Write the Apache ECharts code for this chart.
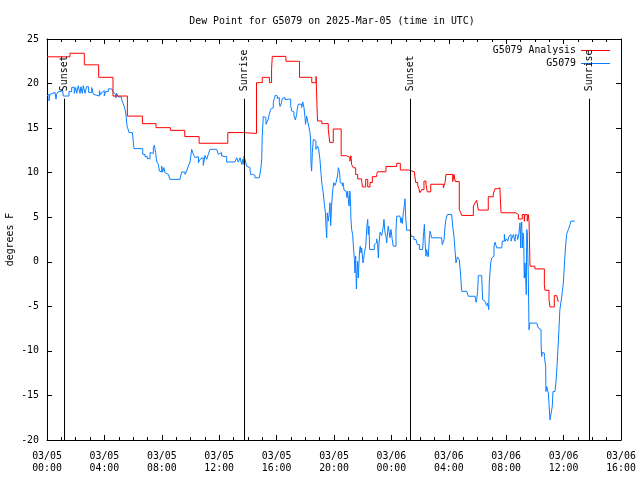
<!DOCTYPE html>
<html><head><meta charset="utf-8">
<script src="https://cdn.jsdelivr.net/npm/echarts@6/dist/echarts.min.js"></script>
<style>html,body{margin:0;padding:0;background:#fff}#c{width:640px;height:480px}</style>
</head><body><div id="c"></div>
<script>
// ---- data (hours since 2025-03-05 00:00 UTC, degrees F) ----
const titleText = 'Dew Point for G5079 on 2025-Mar-05 (time in UTC)';
const seriesNames = ['G5079 Analysis', 'G5079'];
const xTickLabels = ['03/05\n00:00','03/05\n04:00','03/05\n08:00','03/05\n12:00','03/05\n16:00','03/05\n20:00','03/06\n00:00','03/06\n04:00','03/06\n08:00','03/06\n12:00','03/06\n16:00'];
const xMin = 0, xMax = 40, xStep = 4;
const yMin = -20, yMax = 25, yStep = 5;
const sunTimes = [1.21, 13.75, 25.33, 37.79];
const sunLabels = ['Sunset', 'Sunrise', 'Sunset', 'Sunrise'];

const analysisData = [[0,23.0],[1.6,23.4],[2.6,22.1],[3.6,20.7],[4.6,18.6],[5.6,16.35],[6.65,15.5],[7.6,15.05],[8.6,14.75],[9.6,14.05],[10.6,13.3],[12.6,14.5],[13.7,14.4],[14.6,20.1],[15.0,20.7],[15.5,20.1],[15.65,21.6],[15.7,23.05],[16.65,22.5],[17.6,20.7],[18.45,20.1],[18.75,20.8],[18.85,15.8],[19.15,15.5],[19.6,14.9],[19.7,13.4],[19.95,14.9],[20.5,11.9],[20.88,11.7],[21.11,11.3],[21.18,11.9],[21.23,10.9],[21.35,10.55],[21.51,9.8],[21.65,9.3],[21.93,9.0],[21.98,8.4],[22.21,9.25],[22.35,8.4],[22.51,8.9],[22.67,9.55],[22.97,9.8],[23.04,10.1],[23.62,10.7],[24.37,11.05],[24.62,10.3],[25.23,10.1],[25.6,9.9],[25.69,8.9],[25.83,8.6],[25.92,8.2],[25.99,7.75],[26.11,8.1],[26.27,9.05],[26.41,8.7],[26.5,7.85],[26.74,8.7],[27.62,8.3],[27.74,8.9],[27.8,9.8],[28.27,9.0],[28.36,9.8],[28.45,9.0],[28.73,5.9],[28.83,5.5],[28.9,5.2],[29.71,6.25],[29.83,6.6],[29.94,6.9],[30.06,5.8],[30.75,7.3],[31.1,7.6],[31.22,8.2],[31.41,8.3],[31.57,7.8],[31.64,5.5],[32.66,5.3],[32.85,4.8],[33.12,5.3],[33.26,4.55],[33.31,5.3],[33.47,4.55],[33.54,5.3],[33.59,4.55],[33.66,-0.5],[34.0,-0.8],[34.66,-2.56],[34.7,-3.2],[34.98,-4.2],[35.05,-5.07],[35.35,-3.8],[35.52,-4.0],[35.63,-4.5]];

const stationData = [[0,18.6],[0.09,18.8],[0.14,18.05],[0.21,18.8],[0.32,19.0],[0.56,18.8],[0.63,18.25],[0.67,18.8],[0.79,19.1],[0.98,19.25],[1.07,19.4],[1.14,18.6],[1.53,19.1],[1.72,19.55],[1.83,19.6],[1.9,18.9],[2.0,19.55],[2.07,18.9],[2.18,19.75],[2.3,18.9],[2.37,19.65],[2.46,18.9],[2.53,19.75],[2.65,18.9],[2.76,19.65],[2.9,19.0],[3.11,19.55],[3.23,18.8],[3.34,18.6],[3.65,19.2],[3.74,18.75],[3.81,19.0],[3.93,19.2],[3.99,18.6],[4.09,19.1],[4.27,19.4],[4.51,19.4],[4.62,19.0],[4.74,18.8],[4.79,18.4],[4.85,18.9],[4.97,18.5],[5.2,18.2],[5.27,18.05],[5.32,17.7],[5.44,17.1],[5.5,16.55],[5.58,15.2],[5.65,14.87],[5.72,14.5],[5.95,14.3],[6.06,12.7],[6.67,12.06],[6.83,11.8],[6.99,11.57],[7.18,12.25],[7.3,12.17],[7.41,12.8],[7.48,13.07],[7.57,12.25],[7.64,11.3],[7.76,10.93],[7.83,10.18],[7.92,10.07],[7.99,10.74],[8.06,10.07],[8.15,10.56],[8.22,10.0],[8.34,9.81],[8.46,9.62],[8.57,9.25],[9.27,9.25],[9.38,10.07],[9.62,9.81],[9.73,10.18],[9.85,10.74],[9.97,11.2],[10.08,12.62],[10.2,12.06],[10.31,11.68],[10.43,11.8],[10.55,11.12],[10.66,11.5],[10.78,11.68],[10.89,10.82],[11.01,11.95],[11.13,11.5],[11.24,12.06],[11.36,12.62],[11.82,12.7],[11.94,12.06],[12.06,12.25],[12.17,11.87],[12.29,11.8],[12.52,11.2],[13.1,11.2],[13.22,11.68],[13.33,11.2],[13.45,11.68],[13.52,11.87],[13.57,10.93],[13.63,11.5],[13.68,10.93],[13.73,11.87],[13.8,11.5],[13.91,10.75],[14.03,10.56],[14.15,10.18],[14.19,9.81],[14.33,10.0],[14.42,9.7],[14.49,9.43],[14.79,9.43],[14.84,9.81],[14.91,10.56],[14.96,11.5],[15.0,14.12],[15.07,16.3],[15.19,16.18],[15.26,15.43],[15.38,15.43],[15.42,16.0],[15.49,16.56],[15.59,17.12],[15.7,17.3],[15.77,17.87],[15.84,18.32],[15.91,18.69],[16.0,18.62],[16.05,18.32],[16.12,18.43],[16.19,17.87],[16.24,17.43],[16.31,17.68],[16.4,18.32],[16.47,18.43],[16.59,18.17],[16.7,18.25],[16.82,18.32],[16.93,18.25],[16.98,17.57],[17.05,16.93],[17.12,16.82],[17.21,16.37],[17.31,15.92],[17.4,16.56],[17.44,17.12],[17.51,17.68],[17.63,17.68],[17.75,17.3],[17.82,17.94],[17.91,17.3],[17.98,16.18],[18.02,15.43],[18.09,16.37],[18.16,15.81],[18.26,15.06],[18.33,14.5],[18.37,13.56],[18.4,10.93],[18.44,10.18],[18.49,12.25],[18.56,13.75],[18.67,13.56],[18.74,12.62],[18.79,12.81],[18.86,12.99],[18.93,12.62],[19.02,11.5],[19.09,10.0],[19.16,8.68],[19.25,7.74],[19.32,6.62],[19.4,5.49],[19.44,4.07],[19.49,2.68],[19.53,5.49],[19.6,4.56],[19.67,5.49],[19.72,6.62],[19.77,4.07],[19.83,6.25],[19.9,7.93],[19.99,8.87],[20.07,8.57],[20.14,8.87],[20.19,9.06],[20.26,9.81],[20.3,10.56],[20.35,10.75],[20.39,10.0],[20.44,8.87],[20.5,8.8],[20.58,8.5],[20.63,8.87],[20.7,8.05],[20.77,7.93],[20.84,7.75],[20.91,7.19],[20.95,7.93],[21.0,7.0],[21.05,6.25],[21.11,7.93],[21.16,6.25],[21.18,4.75],[21.23,3.62],[21.3,3.06],[21.35,1.75],[21.42,0.25],[21.46,-1.25],[21.51,0.62],[21.56,-3.05],[21.6,-1.25],[21.65,0.06],[21.69,-1.81],[21.74,-0.12],[21.79,1.37],[21.83,1.75],[21.88,1.0],[21.93,1.56],[21.97,1.37],[22.02,-0.12],[22.07,0.25],[22.11,1.0],[22.21,1.75],[22.25,2.87],[22.3,4.18],[22.35,4.75],[22.39,3.06],[22.44,4.0],[22.48,1.37],[22.81,1.93],[22.86,2.12],[22.97,2.57],[23.04,1.93],[23.09,0.43],[23.14,2.12],[23.21,3.32],[23.32,2.95],[23.44,4.0],[23.48,4.75],[23.55,3.32],[23.62,2.87],[23.67,2.12],[23.74,3.43],[23.78,4.0],[23.9,2.69],[23.97,3.62],[24.06,2.5],[24.13,1.75],[24.25,1.75],[24.32,3.62],[24.37,5.12],[24.6,5.12],[24.67,4.37],[24.71,4.93],[24.76,4.3],[24.83,5.5],[24.88,6.06],[24.95,7.07],[24.99,5.12],[25.06,3.55],[25.3,3.43],[25.37,2.87],[25.48,2.8],[25.57,2.5],[25.71,2.5],[25.81,1.93],[25.95,1.37],[26.18,1.37],[26.23,2.87],[26.3,4.19],[26.34,2.5],[26.41,0.62],[26.46,1.37],[26.5,1.0],[26.57,0.55],[26.64,2.5],[26.69,3.43],[26.74,3.18],[26.8,2.69],[27.5,2.69],[27.55,1.93],[27.62,1.93],[27.67,2.5],[27.74,3.99],[27.8,4.75],[27.9,5.31],[28.2,5.31],[28.27,3.99],[28.36,2.87],[28.43,1.37],[28.5,-0.12],[28.6,0.55],[28.67,0.43],[28.73,0.25],[28.83,-1.62],[28.9,-3.31],[29.25,-3.31],[29.36,-3.87],[29.83,-3.87],[29.9,-4.55],[29.94,-4.25],[30.01,-3.31],[30.06,-1.56],[30.29,-1.56],[30.36,-4.25],[30.41,-4.43],[30.52,-4.62],[30.64,-4.93],[30.71,-4.62],[30.78,-5.37],[30.82,-2.37],[30.87,-1.25],[30.92,-0.12],[30.99,0.43],[31.06,0.62],[31.15,1.75],[31.22,2.2],[31.34,1.56],[31.69,1.56],[31.73,2.31],[31.87,3.06],[31.92,2.31],[32.03,2.57],[32.1,2.31],[32.2,2.87],[32.27,3.06],[32.34,2.31],[32.38,2.57],[32.5,3.06],[32.61,2.31],[32.66,3.06],[32.73,2.87],[32.8,2.5],[32.85,2.31],[32.89,3.25],[32.96,4.37],[33.01,1.56],[33.03,3.62],[33.08,4.45],[33.12,1.56],[33.17,3.25],[33.22,2.5],[33.26,-1.82],[33.31,-0.12],[33.36,-2.0],[33.4,-3.69],[33.43,3.62],[33.47,3.25],[33.54,-1.62],[33.59,-7.63],[33.64,-6.88],[34.12,-6.88],[34.19,-7.06],[34.24,-7.44],[34.36,-7.63],[34.43,-9.12],[34.47,-10.63],[34.52,-10.17],[34.59,-10.25],[34.66,-10.63],[34.75,-11.75],[34.77,-14.56],[34.82,-14.0],[34.89,-14.0],[34.94,-14.75],[34.98,-15.87],[35.05,-17.75],[35.17,-17.75],[35.21,-16.25],[35.26,-14.56],[35.4,-14.56],[35.47,-13.44],[35.54,-11.75],[35.63,-9.12],[35.74,-5.38],[35.86,-4.06],[35.98,-2.38],[36.05,-0.5],[36.14,1.75],[36.21,3.06],[36.33,3.62],[36.45,4.19],[36.51,4.56],[36.79,4.56]];

// ---- styling ----
const FONT = 'DejaVu Sans Mono';
const FS = 9.9;
const RED = '#ff0000', BLUE = '#0a80ff';
const sunLineTop = 18.3, sunLabelAnchor = 19.15;

const chart = echarts.init(document.getElementById('c'), null, {renderer: 'canvas'});
const tickCommon = {show: true, inside: true, length: 5, lineStyle: {color: '#000', width: 1}};
const axisLineCommon = {show: true, onZero: false, lineStyle: {color: '#000', width: 1}};
const xBase = {
  type: 'value', min: xMin, max: xMax, interval: xStep,
  axisLine: axisLineCommon, axisTick: tickCommon,
  minorTick: {show: true, splitNumber: 4, length: 3, lineStyle: {color: '#000', width: 1}},
  splitLine: {show: false}, minorSplitLine: {show: false}
};
const yBase = {
  type: 'value', min: yMin, max: yMax, interval: yStep,
  axisLine: axisLineCommon, axisTick: tickCommon, splitLine: {show: false}
};

chart.setOption({
  animation: false,
  backgroundColor: '#fff',
  textStyle: {fontFamily: FONT, fontSize: FS, color: '#000'},
  title: {
    text: titleText, left: 327, top: 11, textAlign: 'center',
    textStyle: {fontFamily: FONT, fontSize: FS, fontWeight: 'normal', color: '#000'}
  },
  grid: {left: 47, right: 19, top: 39, bottom: 40, containLabel: false, outerBoundsMode: 'none'},
  legend: [0, 1].map(i => ({
    data: [{name: seriesNames[i], icon: 'rect'}],
    right: 30, top: 45.5 + i * 13, align: 'right', orient: 'vertical',
    itemWidth: 29, itemHeight: 1, itemGap: 0, padding: 0, selectedMode: false,
    textStyle: {fontFamily: FONT, fontSize: FS, color: '#000'}
  })),
  xAxis: [
    Object.assign({}, xBase, {
      position: 'bottom',
      axisLabel: {show: true, margin: 10, color: '#000', fontFamily: FONT, fontSize: FS, lineHeight: 12,
        formatter: v => xTickLabels[Math.round((v - xMin) / xStep)] || ''}
    }),
    Object.assign({}, xBase, {position: 'top', axisLabel: {show: false}})
  ],
  yAxis: [
    Object.assign({}, yBase, {
      position: 'left',
      name: 'degrees F', nameLocation: 'middle', nameGap: 32, nameRotate: 90, nameMoveOverlap: false,
      nameTextStyle: {fontFamily: FONT, fontSize: FS, color: '#000'},
      axisLabel: {show: true, margin: 8, color: '#000', fontFamily: FONT, fontSize: FS}
    }),
    Object.assign({}, yBase, {position: 'right', axisLabel: {show: false}})
  ],
  series: [
    {
      name: seriesNames[0], type: 'line', step: 'end', data: analysisData,
      showSymbol: false, symbol: 'none', z: 3,
      itemStyle: {color: RED}, lineStyle: {color: RED, width: 1},
      markLine: {
        silent: true, symbol: ['none', 'none'], animation: false,
        lineStyle: {color: '#000', width: 1, type: 'solid'},
        label: {show: false},
        data: sunTimes.map(t => [{coord: [t, yMin]}, {coord: [t, sunLineTop]}])
      },
      markPoint: {
        silent: true, symbol: 'rect', symbolSize: 1, animation: false,
        itemStyle: {color: 'rgba(0,0,0,0)'},
        label: {show: true, formatter: '{b}', rotate: 90, position: 'inside', align: 'left', verticalAlign: 'middle',
          color: '#000', fontFamily: FONT, fontSize: FS},
        data: sunTimes.map((t, i) => ({name: sunLabels[i], coord: [t, sunLabelAnchor]}))
      }
    },
    {
      name: seriesNames[1], type: 'line', step: 'end', data: stationData,
      showSymbol: false, symbol: 'none', z: 2,
      itemStyle: {color: BLUE}, lineStyle: {color: BLUE, width: 1}
    }
  ]
});
</script></body></html>
